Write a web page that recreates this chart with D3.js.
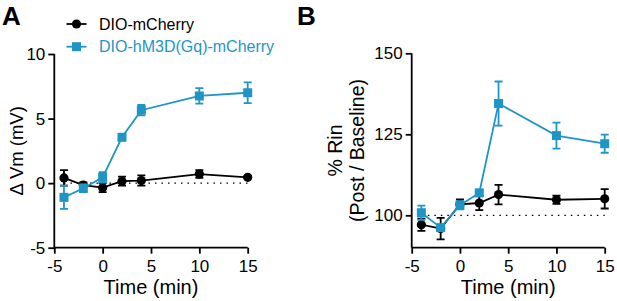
<!DOCTYPE html>
<html>
<head>
<meta charset="utf-8">
<script src="https://cdn.jsdelivr.net/npm/d3@7"></script>
<style>
  body { margin: 0; background: #fff; }
  svg { font-family: "Liberation Sans", Arial, sans-serif; }
</style>
</head>
<body>
<div id="chart"></div>
<script>
var times = [-4, -2, 0, 2, 4, 10, 15];
var xTicks = [-5, 0, 5, 10, 15];

// panel A: delta Vm (mV)
var vmCtrl = [0.4, -0.15, -0.35, 0.15, 0.2, 0.7, 0.45];
var vmCtrlErr = [0.6, 0.2, 0.35, 0.35, 0.4, 0.3, 0.1];
var vmGq = [-1.1, -0.4, 0.45, 3.55, 5.65, 6.75, 7.0];
var vmGqErr = [0.9, 0.3, 0.4, 0.2, 0.4, 0.6, 0.8];
var vmTicks = [-5, 0, 5, 10];

// panel B: % Rin (post / baseline)
var rinCtrl = [97.1, 95.9, 103.4, 103.8, 106.4, 104.8, 105.1];
var rinCtrlErr = [1.9, 3.3, 1.5, 2.2, 3.0, 1.3, 3.0];
var rinGq = [100.8, 96.2, 103.1, 106.9, 134.5, 124.6, 122.1];
var rinGqErr = [2.2, 0.8, 1.3, 1.0, 6.8, 4.0, 2.8];
var rinTicks = [100, 125, 150];

var seriesNames = ["DIO-mCherry", "DIO-hM3D(Gq)-mCherry"];
var black = "#000000", blue = "#1f95c6";

var width = 617, height = 301;
var svg = d3.select("#chart").append("svg")
    .attr("width", width)
    .attr("height", height);

// plain hyphen for negatives, like the original figure
var fmt = function(d) { return String(d); };

function panel(opt) {
  var x = d3.scaleLinear().domain([-5, 15]).range(opt.xr);
  var y = d3.scaleLinear().domain(opt.yd).range(opt.yr);
  var g = svg.append("g");

  var xAxis = g.append("g")
      .attr("transform", "translate(0," + opt.yr[0] + ")")
      .call(d3.axisBottom(x).tickValues(xTicks).tickFormat(fmt).tickSize(6).tickPadding(3));
  var yAxis = g.append("g")
      .attr("transform", "translate(" + opt.xr[0] + ",0)")
      .call(d3.axisLeft(y).tickValues(opt.yTicks).tickFormat(fmt).tickSize(6).tickPadding(3));
  [xAxis, yAxis].forEach(function(a) {
    a.selectAll("path, line").attr("stroke", "#000").attr("stroke-width", 1.8);
    a.select(".domain").attr("d", a === xAxis
      ? "M" + opt.xr[0] + ",0H" + opt.xr[1]
      : "M0," + opt.yr[0] + "V" + opt.yr[1]);
    a.selectAll("text").attr("font-size", 17).attr("fill", "#000");
  });
  xAxis.selectAll("text").attr("dy", "0.9em");

  // dotted baseline
  g.append("line")
      .attr("x1", x(-4)).attr("x2", x(15))
      .attr("y1", y(opt.base)).attr("y2", y(opt.base))
      .attr("stroke", "#000").attr("stroke-width", 1.3)
      .attr("stroke-dasharray", "1.5,5");

  var line = d3.line()
      .x(function(d, i) { return x(times[i]); })
      .y(function(d) { return y(d); });

  opt.series.forEach(function(s) {
    var sg = g.append("g");
    // error bars
    s.vals.forEach(function(v, i) {
      var cx = x(times[i]), e = s.err[i];
      sg.append("path")
        .attr("d", "M" + cx + "," + y(v - e) + "V" + y(v + e) +
                   "M" + (cx - 4) + "," + y(v - e) + "H" + (cx + 4) +
                   "M" + (cx - 4) + "," + y(v + e) + "H" + (cx + 4))
        .attr("stroke", s.color).attr("stroke-width", 1.8).attr("fill", "none");
    });
    sg.append("path")
        .datum(s.vals)
        .attr("d", line)
        .attr("fill", "none")
        .attr("stroke", s.color)
        .attr("stroke-width", 1.8);
    s.vals.forEach(function(v, i) {
      marker(sg, x(times[i]), y(v), s.shape, s.color);
    });
  });

  svg.append("text")
      .attr("x", opt.letterX).attr("y", 25)
      .attr("font-size", 26).attr("font-weight", "bold")
      .text(opt.letter);

  svg.append("text")
      .attr("x", (opt.xr[0] + opt.xr[1]) / 2).attr("y", 294)
      .attr("text-anchor", "middle")
      .attr("font-size", 20)
      .text("Time (min)");

  var cy = (opt.yr[0] + opt.yr[1]) / 2;
  opt.ylabel.forEach(function(t, k) {
    svg.append("text")
        .attr("transform", "translate(" + opt.ylabelX[k] + "," + cy + ") rotate(-90)")
        .attr("text-anchor", "middle")
        .attr("font-size", opt.ylabelSize)
        .text(t);
  });
}

function marker(sel, cx, cy, shape, color) {
  if (shape === "circle") {
    sel.append("circle").attr("cx", cx).attr("cy", cy).attr("r", 4.6).attr("fill", color);
  } else {
    sel.append("rect").attr("x", cx - 4.5).attr("y", cy - 4.5)
      .attr("width", 9).attr("height", 9).attr("fill", color);
  }
}

panel({
  xr: [54.3, 247.7], yd: [-5, 10], yr: [247.7, 54], yTicks: vmTicks, base: 0,
  letter: "A", letterX: 2, ylabel: ["\u0394 Vm (mV)"], ylabelX: [23], ylabelSize: 18.5,
  series: [
    {vals: vmCtrl, err: vmCtrlErr, color: black, shape: "circle"},
    {vals: vmGq, err: vmGqErr, color: blue, shape: "square"}
  ]
});

panel({
  xr: [411.7, 604.7], yd: [90, 150], yr: [247.7, 53.3], yTicks: rinTicks, base: 100,
  letter: "B", letterX: 297, ylabel: ["% Rin", "(Post / Baseline)"], ylabelX: [342, 364], ylabelSize: 19.5,
  series: [
    {vals: rinCtrl, err: rinCtrlErr, color: black, shape: "circle"},
    {vals: rinGq, err: rinGqErr, color: blue, shape: "square"}
  ]
});

// legend
var legend = svg.append("g");
[black, blue].forEach(function(c, i) {
  var ly = 24 + i * 22.7;
  legend.append("line").attr("x1", 66.5).attr("x2", 86.5)
    .attr("y1", ly).attr("y2", ly).attr("stroke", c).attr("stroke-width", 1.8);
  marker(legend, 76.5, ly, i === 0 ? "circle" : "square", c);
  legend.append("text").attr("x", 99).attr("y", ly).attr("dy", "0.36em")
    .attr("font-size", 16).attr("fill", c).text(seriesNames[i]);
});
</script>
</body>
</html>
